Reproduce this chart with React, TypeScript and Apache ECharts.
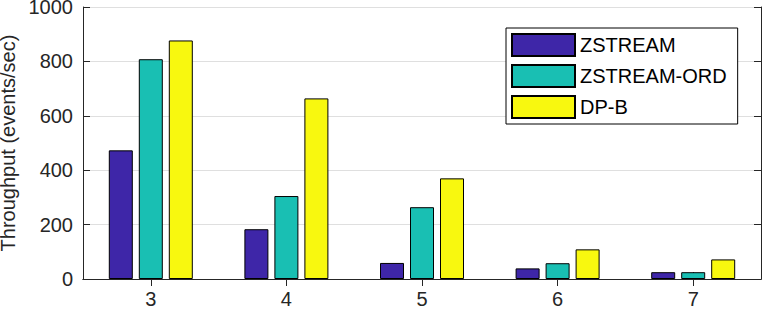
import React, { useEffect, useRef } from "react";
import * as echarts from "echarts";

const categories = ["3", "4", "5", "6", "7"];
const zstream = [473, 183, 59, 39, 25];
const zstreamOrd = [808, 305, 264, 58, 25];
const dpB = [877, 664, 370, 109, 72];
const seriesNames = ["ZSTREAM", "ZSTREAM-ORD", "DP-B"];
const yTicks = { min: 0, max: 1000, interval: 200 };

const FONT = "'Liberation Sans', Arial, Helvetica, sans-serif";
const AXIS = "#262626";

export default function App() {
  const ref = useRef<HTMLDivElement>(null);
  useEffect(() => {
    document.body.style.margin = "0";
    const chart = echarts.init(ref.current!, null, { renderer: "svg" });
    const colors = ["#3e26a8", "#19bfb3", "#f8f80f"];
    const data = [zstream, zstreamOrd, dpB];
    const tickCommon = { show: true, inside: true, length: 7, lineStyle: { color: AXIS, width: 1 } };
    chart.setOption({
      animation: false,
      textStyle: { fontFamily: FONT },
      grid: { left: 83, right: 1, top: 7, bottom: 31, containLabel: false, outerBoundsMode: "none" },
      legend: {
        orient: "vertical",
        left: 506,
        top: 28,
        itemWidth: 63,
        itemHeight: 22,
        itemGap: 7,
        padding: [5, 11, 5, 5],
        backgroundColor: "#fff",
        borderColor: "#000",
        borderWidth: 1,
        borderRadius: 0,
        icon: "rect",
        textStyle: { fontSize: 20, color: "#000", fontFamily: FONT },
        data: seriesNames,
      },
      xAxis: [
        {
          type: "category",
          data: categories,
          position: "bottom",
          axisLine: { show: true, lineStyle: { color: AXIS, width: 1 } },
          axisTick: { ...tickCommon, alignWithLabel: true },
          axisLabel: { fontSize: 20, color: AXIS, margin: 10, fontFamily: FONT },
          splitLine: { show: false },
        },
        {
          type: "category",
          data: categories,
          position: "top",
          axisLine: { show: true, lineStyle: { color: AXIS, width: 1 } },
          axisTick: { ...tickCommon, alignWithLabel: true },
          axisLabel: { show: false },
          splitLine: { show: false },
        },
      ],
      yAxis: [
        {
          type: "value",
          ...yTicks,
          position: "left",
          name: "Throughput (events/sec)",
          nameLocation: "middle",
          nameGap: 59,
          nameTextStyle: { fontSize: 20, lineHeight: 18, color: AXIS, fontFamily: FONT },
          axisLine: { show: true, lineStyle: { color: AXIS, width: 1 } },
          axisTick: tickCommon,
          axisLabel: {
            fontSize: 20,
            lineHeight: 14,
            color: AXIS,
            margin: 10,
            fontFamily: FONT,
            formatter: (v: number) => String(v),
          },
          splitLine: { show: true, lineStyle: { color: "#dfdfdf", width: 1 } },
        },
        {
          type: "value",
          ...yTicks,
          position: "right",
          axisLine: { show: true, lineStyle: { color: AXIS, width: 1 } },
          axisTick: tickCommon,
          axisLabel: { show: false },
          splitLine: { show: false },
        },
      ],
      series: seriesNames.map((name, i) => ({
        name,
        type: "bar",
        data: data[i],
        barWidth: 24,
        barGap: "25%",
        itemStyle: { color: colors[i], borderColor: "#000", borderWidth: 1 },
      })),
    });
    return () => chart.dispose();
  }, []);
  return <div ref={ref} style={{ width: 762, height: 310 }} />;
}
